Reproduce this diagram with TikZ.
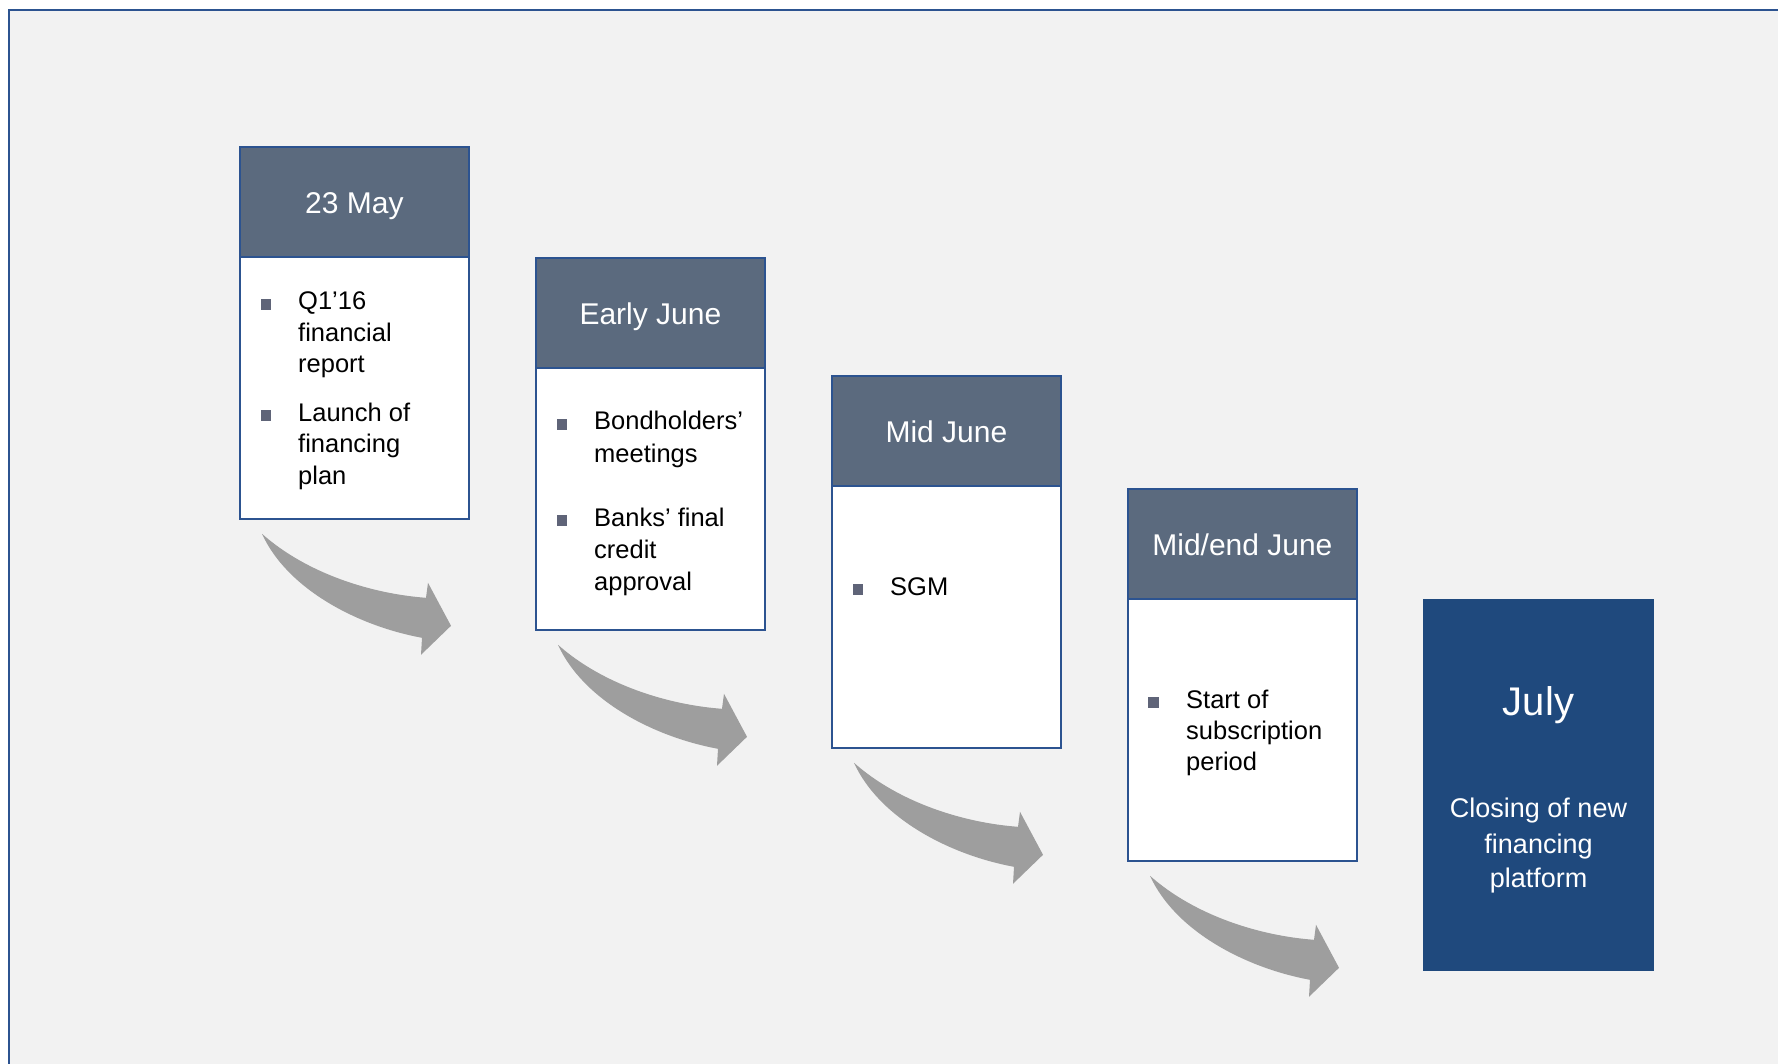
\documentclass[tikz,border=0pt]{standalone}
\usepackage{fontspec}
\setmainfont{Liberation Sans}
\definecolor{bg}{HTML}{F2F2F2}
\definecolor{frame}{HTML}{2C5390}
\definecolor{hdr}{HTML}{5B6A7E}
\definecolor{july}{HTML}{1F497D}
\definecolor{bul}{HTML}{5F6478}
\definecolor{arr}{HTML}{9E9E9E}
\begin{document}
\begin{tikzpicture}[x=1pt,y=-1pt,
  hdrbox/.style={draw=frame, line width=1.8pt, fill=hdr, minimum width=229pt, minimum height=110pt,
    anchor=north west, inner sep=0pt, text=white, text height=24pt, text depth=0pt,
    font=\fontsize{30}{36}\selectfont},
  bodybox/.style={draw=frame, line width=1.8pt, fill=white, minimum width=229pt, minimum height=262pt,
    anchor=north west, inner sep=0pt},
  ln/.style={anchor=base west, inner sep=0pt, font=\fontsize{25.5}{30}\selectfont, text=black},
  bsq/.style={fill=bul, minimum size=10.5pt, inner sep=0pt},
  bigarrow/.style={fill=arr, draw=none},
  julybox/.style={fill=july, draw=none, minimum width=231pt, minimum height=372pt, anchor=north west, inner sep=0pt},
  jt/.style={anchor=base, inner sep=0pt, text=white},
]
\useasboundingbox (0,0) rectangle (1778,1064);
\fill[white] (0,0) rectangle (1778,1064);
\fill[bg] (9,10) rectangle (1778,1064);
\draw[frame, line width=2pt] (9,1064) -- (9,10) -- (1778,10);

% stage 1
\node[bodybox] (b1) at (239,256) {};
\node[hdrbox] (h1) at (239,146) {23 May};
\node[bsq] (s1a) at (266,304.5) {};
\node[ln] (t1a) at (298,310) {Q1’16};
\node[ln] (t1b) at (298,342) {financial};
\node[ln] (t1c) at (298,373) {report};
\node[bsq] (s1b) at (266,415.5) {};
\node[ln] (t1d) at (298,421) {Launch of};
\node[ln] (t1e) at (298,453) {financing};
\node[ln] (t1f) at (298,484) {plan};

% stage 2
\node[bodybox] (b2) at (535,367) {};
\node[hdrbox] (h2) at (535,257) {Early June};
\node[bsq] (s2a) at (562,424.5) {};
\node[ln] (t2a) at (594,430) {Bondholders’};
\node[ln] (t2b) at (594,462) {meetings};
\node[bsq] (s2b) at (562,520.5) {};
\node[ln] (t2c) at (594,526) {Banks’ final};
\node[ln] (t2d) at (594,558) {credit};
\node[ln] (t2e) at (594,590) {approval};

% stage 3
\node[bodybox] (b3) at (831,485) {};
\node[hdrbox] (h3) at (831,375) {Mid June};
\node[bsq] (s3a) at (858,589.5) {};
\node[ln] (t3a) at (890,595) {SGM};

% stage 4
\node[bodybox] (b4) at (1127,598) {};
\node[hdrbox] (h4) at (1127,488) {Mid/end June};
\node[bsq] (s4a) at (1153.5,702.5) {};
\node[ln] (t4a) at (1186,708) {Start of};
\node[ln] (t4b) at (1186,739) {subscription};
\node[ln] (t4c) at (1186,770) {period};

% stage 5
\node[julybox] (j) at (1423,599) {};
\node[jt, font=\fontsize{40}{48}\selectfont] (jt1) at (1538.5,715) {July};
\node[jt, font=\fontsize{27}{32}\selectfont] (jt2) at (1538.5,817) {Closing of new};
\node[jt, font=\fontsize{27}{32}\selectfont] (jt3) at (1538.5,853) {financing};
\node[jt, font=\fontsize{27}{32}\selectfont] (jt4) at (1538.5,887) {platform};

% arrows
\foreach \b in {b1,b2,b3,b4}{
  \fill[bigarrow, shift={(\b.south west)}]
    (23,14) .. controls (68,54) and (133,74) .. (187,78)
    -- (189,63) -- (212,106) -- (182,135) -- (183,118)
    .. controls (118,106) and (48,69) .. (23,14) -- cycle;
}
\end{tikzpicture}
\end{document}
